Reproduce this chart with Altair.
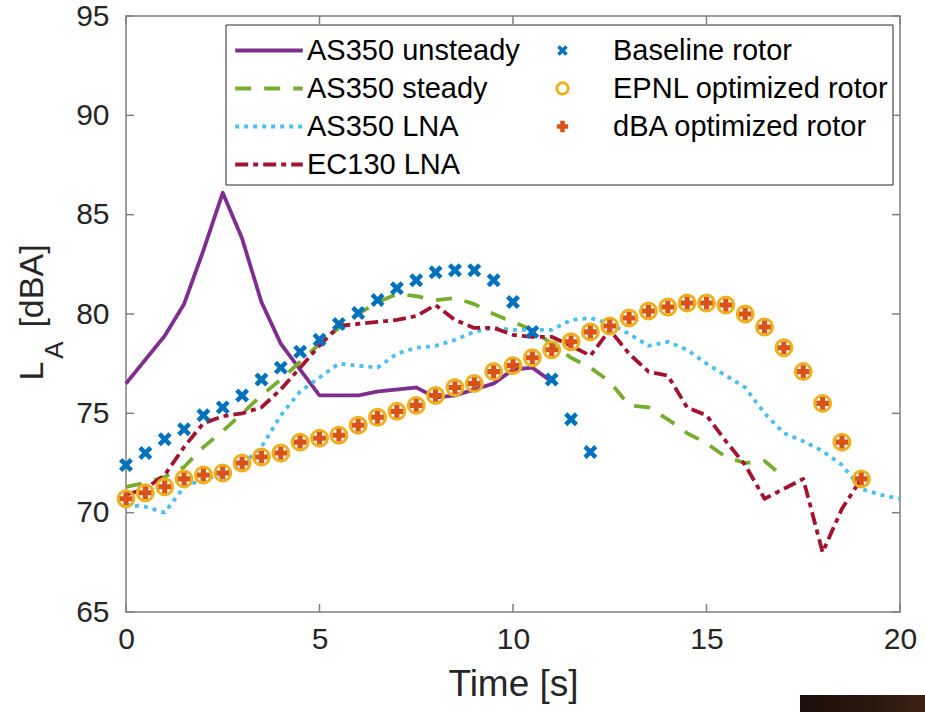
import altair as alt
import pandas as pd

# ---------------- data ----------------
time_grid = [0.0, 0.5, 1.0, 1.5, 2.0, 2.5, 3.0, 3.5, 4.0, 4.5, 5.0, 5.5, 6.0, 6.5,
             7.0, 7.5, 8.0, 8.5, 9.0, 9.5, 10.0, 10.5, 11.0, 11.5, 12.0, 12.5, 13.0,
             13.5, 14.0, 14.5, 15.0, 15.5, 16.0, 16.5, 17.0, 17.5, 18.0, 18.5, 19.0,
             19.5, 20.0]

as350_unsteady = [76.5, 77.7, 78.9, 80.5, 83.2, 86.1, 83.8, 80.6, 78.5, 77.2, 75.9,
                  75.9, 75.9, 76.1, 76.2, 76.3, 75.8, 75.9, 76.2, 76.5, 77.2, 77.3, 76.6]
as350_steady = [71.3, 71.5, 71.8, 72.3, 73.3, 74.1, 75.0, 75.9, 76.7, 77.6, 78.5, 79.3,
                80.0, 80.6, 81.0, 80.9, 80.7, 80.8, 80.5, 80.0, 79.6, 79.2, 78.5, 77.8,
                77.3, 76.6, 75.4, 75.3, 74.7, 74.0, 73.5, 72.8, 72.5, 72.6, 71.8]
as350_lna = [70.4, 70.3, 70.0, 71.3, 71.7, 71.9, 72.4, 73.3, 74.9, 76.1, 76.8, 77.5,
             77.4, 77.3, 78.0, 78.3, 78.4, 78.7, 79.1, 79.3, 79.2, 79.2, 79.2, 79.7,
             79.8, 79.5, 79.0, 78.4, 78.6, 78.2, 77.5, 76.9, 76.3, 75.0, 74.0, 73.6,
             73.1, 72.4, 71.2, 70.9, 70.7]
ec130_lna = [70.9, 71.2, 71.9, 73.3, 74.5, 74.85, 75.0, 75.3, 76.2, 77.3, 78.4, 79.4,
             79.5, 79.6, 79.7, 79.9, 80.45, 79.7, 79.3, 79.3, 78.95, 78.85, 78.85, 78.4,
             77.9, 79.2, 78.0, 77.1, 76.9, 75.3, 74.9, 73.6, 72.4, 70.7, 71.2, 71.7,
             68.0, 70.2, 71.7]

baseline_rotor = [72.4, 73.0, 73.7, 74.2, 74.9, 75.3, 75.9, 76.7, 77.3, 78.1, 78.7,
                  79.5, 80.05, 80.7, 81.3, 81.7, 82.1, 82.2, 82.2, 81.7, 80.6, 79.1,
                  76.7, 74.7, 73.05]
epnl_rotor = [70.7, 71.0, 71.3, 71.7, 71.9, 72.0, 72.5, 72.8, 73.0, 73.55, 73.75, 73.9,
              74.4, 74.8, 75.1, 75.4, 75.9, 76.3, 76.5, 77.1, 77.4, 77.8, 78.2, 78.6,
              79.1, 79.4, 79.8, 80.15, 80.35, 80.55, 80.55, 80.45, 80.0, 79.35, 78.3,
              77.1, 75.5, 73.55, 71.7]
dba_rotor = [70.7, 71.0, 71.3, 71.7, 71.9, 72.0, 72.5, 72.8, 73.0, 73.55, 73.75, 73.9,
             74.4, 74.8, 75.1, 75.4, 75.9, 76.3, 76.5, 77.1, 77.4, 77.8, 78.2, 78.6,
             79.1, 79.4, 79.8, 80.15, 80.35, 80.55, 80.55, 80.45, 80.0, 79.35, 78.3,
             77.1, 75.5, 73.55, 71.7]

line_names = ["AS350 unsteady", "AS350 steady", "AS350 LNA", "EC130 LNA"]
marker_names = ["Baseline rotor", "EPNL optimized rotor", "dBA optimized rotor"]
x_ticks = [0, 5, 10, 15, 20]
y_ticks = [65, 70, 75, 80, 85, 90, 95]

# ---------------- tables ----------------
line_rows = []
for name, vals in zip(line_names, [as350_unsteady, as350_steady, as350_lna, ec130_lna]):
    for t, v in zip(time_grid, vals):
        line_rows.append({"series": name, "t": t, "v": v})
line_df = pd.DataFrame(line_rows)

marker_tables = {}
for name, vals in zip(marker_names, [baseline_rotor, epnl_rotor, dba_rotor]):
    marker_tables[name] = pd.DataFrame({"series": name, "t": time_grid[:len(vals)], "v": vals})

xtick_df = pd.DataFrame({"t": x_ticks})
ytick_df = pd.DataFrame({"v": y_ticks})
one_df = pd.DataFrame({"a": [0]})

# ---------------- styles ----------------
FONT = "Liberation Sans"
TXT = "#262626"
AX = "#7f7f7f"
W, H = 774, 596
LEG_FS = 29
LW = 3.8

x_scale = alt.Scale(domain=[0, 20], nice=False, zero=False)
y_scale = alt.Scale(domain=[65, 95], nice=False, zero=False)
x_axis = alt.Axis(values=x_ticks, labelPadding=12, titlePadding=12, labelFlush=False,
                  labelOverlap=False)
y_axis = alt.Axis(values=y_ticks, labelPadding=17, labelFlush=False, labelOverlap=False)

X = alt.X("t:Q", scale=x_scale, axis=x_axis, title="Time [s]")
Y = alt.Y("v:Q", scale=y_scale, axis=y_axis, title=None)

LINE_PATH = "M-5.2,0H5.2"
line_legend = alt.Legend(orient="none", legendX=128.5, legendY=20, symbolType=LINE_PATH,
                         symbolSize=169, symbolStrokeWidth=LW, labelOffset=23.5,
                         labelFontSize=LEG_FS, labelFont=FONT, labelColor="#000000",
                         labelLimit=500, rowPadding=8, padding=0)
X_PATH = ("M0,0.424L0.495,0.919L0.919,0.495L0.424,0L0.919,-0.495L0.495,-0.919"
          "L0,-0.424L-0.495,-0.919L-0.919,-0.495L-0.424,0L-0.919,0.495L-0.495,0.919Z")
marker_legend = alt.Legend(orient="none", legendX=422, legendY=20, symbolSize=130,
                           symbolStrokeWidth=3, labelOffset=36, labelFontSize=LEG_FS,
                           labelFont=FONT, labelColor="#000000", labelLimit=500,
                           rowPadding=8, padding=0)

shape_enc = alt.Shape("series:N", title=None, legend=marker_legend,
                      scale=alt.Scale(domain=marker_names, range=[X_PATH, "circle", "cross"]))
fill_enc = alt.Fill("series:N", title=None, legend=marker_legend,
                    scale=alt.Scale(domain=marker_names,
                                    range=["#0072BD", "transparent", "#D95319"]))
stroke_enc = alt.Stroke("series:N", title=None, legend=marker_legend,
                        scale=alt.Scale(domain=marker_names,
                                        range=["transparent", "#EDB120", "transparent"]))

# ---------------- layers ----------------
legend_box = alt.Chart(one_df).mark_rect(fill="white", stroke=TXT, strokeWidth=1).encode(
    x=alt.value(100), x2=alt.value(767), y=alt.value(9), y2=alt.value(169))

lines = alt.Chart(line_df).mark_line(strokeWidth=LW, strokeJoin="round").encode(
    x=X, y=Y,
    color=alt.Color("series:N", title=None, legend=line_legend,
                    scale=alt.Scale(domain=line_names,
                                    range=["#7E2F8E", "#77AC30", "#4DBEEE", "#A2142F"])),
    strokeDash=alt.StrokeDash("series:N", title=None, legend=line_legend,
                              scale=alt.Scale(domain=line_names,
                                              range=[[1, 0], [16, 13], [4, 5], [13, 5, 5, 5]])),
)

marker_sizes = {"Baseline rotor": 230, "EPNL optimized rotor": 256, "dBA optimized rotor": 160}
marker_layers = []
for name in marker_names:
    marker_layers.append(
        alt.Chart(marker_tables[name]).mark_point(opacity=1, strokeWidth=3,
                                                  size=marker_sizes[name]).encode(
            x=X, y=Y, shape=shape_enc, fill=fill_enc, stroke=stroke_enc)
    )

left_ticks = alt.Chart(ytick_df).mark_rule(color=AX, strokeWidth=1.5).encode(
    y=Y, x=alt.value(0), x2=alt.value(8))
right_ticks = alt.Chart(ytick_df).mark_rule(color=AX, strokeWidth=1.5).encode(
    y=Y, x=alt.value(W - 8), x2=alt.value(W))
bottom_ticks = alt.Chart(xtick_df).mark_rule(color=AX, strokeWidth=1.5).encode(
    x=X, y=alt.value(H - 8), y2=alt.value(H))
top_ticks = alt.Chart(xtick_df).mark_rule(color=AX, strokeWidth=1.5).encode(
    x=X, y=alt.value(0), y2=alt.value(8))

ytitle_L = alt.Chart(one_df).mark_text(text="L", angle=270, font=FONT, fontSize=34,
                                       align="center", baseline="alphabetic", color=TXT).encode(
    x=alt.value(-83), y=alt.value(355))
ytitle_A = alt.Chart(one_df).mark_text(text="A", angle=270, font=FONT, fontSize=26,
                                       align="center", baseline="alphabetic", color=TXT).encode(
    x=alt.value(-63), y=alt.value(334))
ytitle_rest = alt.Chart(one_df).mark_text(text="[dBA]", angle=270, font=FONT, fontSize=34,
                                          align="center", baseline="alphabetic", color=TXT).encode(
    x=alt.value(-83), y=alt.value(270))

dark_bar = alt.Chart(one_df).mark_rect(
    color=alt.LinearGradient(gradient="linear",
                             stops=[alt.GradientStop(color="#1b0e09", offset=0),
                                    alt.GradientStop(color="#2a190f", offset=0.6),
                                    alt.GradientStop(color="#3d2116", offset=1)],
                             x1=0, x2=1, y1=0, y2=0)).encode(
    x=alt.value(674), x2=alt.value(799), y=alt.value(679), y2=alt.value(700))

chart = alt.layer(
    legend_box, lines, *marker_layers, left_ticks, right_ticks, bottom_ticks, top_ticks,
    ytitle_L, ytitle_A, ytitle_rest, dark_bar
).properties(
    width=W, height=H,
    background="white",
    autosize=alt.AutoSizeParams(type="none"),
    padding={"left": 126, "top": 16, "right": 25, "bottom": 100},
).configure_view(
    stroke=AX, strokeWidth=1.5
).configure_axis(
    labelFont=FONT, labelFontSize=30, labelColor=TXT, titleFont=FONT, titleFontSize=37,
    titleFontWeight="normal", titleColor=TXT, ticks=False, domain=False, grid=False
)

chart.save("out.html", embed_options={"renderer": "svg", "actions": False})
